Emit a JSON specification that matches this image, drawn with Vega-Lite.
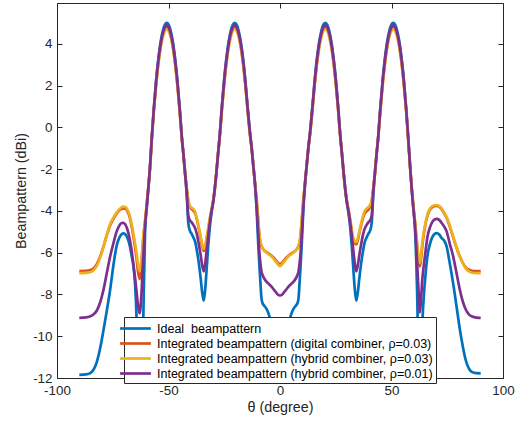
{
"$schema": "https://vega.github.io/schema/vega-lite/v6.json",
"width": 446, "height": 375,
"autosize": {"type": "none"},
"padding": {"left": 57, "top": 3, "right": 18, "bottom": 43},
"background": "white",
"config": {
  "view": {"stroke": "#262626", "strokeWidth": 1},
  "font": "Liberation Sans",
  "axis": {"domain": false, "grid": false, "labelFlush": false, "labelFont": "Liberation Sans", "labelFontSize": 13.4, "labelColor": "#262626", "tickColor": "#262626", "tickSize": -5, "tickWidth": 1, "titleFont": "Liberation Sans", "titleFontSize": 14.3, "titleFontWeight": "normal", "titleColor": "#262626", "labelExpr": "'' + datum.value"}
},
"data": {"values": [
{"t":-90,"ideal":-11.85,"dig":-6.88,"hyb3":-6.98,"hyb1":-9.12},
{"t":-87,"ideal":-11.83,"dig":-6.87,"hyb3":-6.97,"hyb1":-9.1},
{"t":-85.3,"ideal":-11.78,"dig":-6.84,"hyb3":-6.94,"hyb1":-9.06},
{"t":-83.7,"ideal":-11.62,"dig":-6.76,"hyb3":-6.86,"hyb1":-8.96},
{"t":-82.2,"ideal":-11.25,"dig":-6.56,"hyb3":-6.65,"hyb1":-8.78},
{"t":-80.7,"ideal":-10.6,"dig":-6.2,"hyb3":-6.25,"hyb1":-8.4},
{"t":-79.2,"ideal":-9.74,"dig":-5.72,"hyb3":-5.74,"hyb1":-7.8},
{"t":-77.7,"ideal":-8.8,"dig":-5.18,"hyb3":-5.15,"hyb1":-7.0},
{"t":-76.2,"ideal":-7.8,"dig":-4.7,"hyb3":-4.64,"hyb1":-6.2},
{"t":-74.7,"ideal":-6.6,"dig":-4.38,"hyb3":-4.32,"hyb1":-5.55},
{"t":-73.2,"ideal":-5.65,"dig":-4.12,"hyb3":-4.07,"hyb1":-4.97},
{"t":-72.3,"ideal":-5.35,"dig":-4.0,"hyb3":-3.95,"hyb1":-4.75},
{"t":-71.3,"ideal":-5.15,"dig":-3.92,"hyb3":-3.85,"hyb1":-4.6},
{"t":-70.3,"ideal":-5.08,"dig":-3.88,"hyb3":-3.8,"hyb1":-4.57},
{"t":-69.3,"ideal":-5.13,"dig":-3.9,"hyb3":-3.82,"hyb1":-4.66},
{"t":-68.4,"ideal":-5.3,"dig":-4.02,"hyb3":-3.95,"hyb1":-4.9},
{"t":-67.4,"ideal":-5.65,"dig":-4.3,"hyb3":-4.22,"hyb1":-5.35},
{"t":-66.6,"ideal":-6.1,"dig":-4.7,"hyb3":-4.6,"hyb1":-5.85},
{"t":-65.8,"ideal":-6.6,"dig":-5.2,"hyb3":-5.05,"hyb1":-6.5},
{"t":-65,"ideal":-7.5,"dig":-5.74,"hyb3":-5.55,"hyb1":-7.2},
{"t":-64.3,"ideal":-9.2,"dig":-6.3,"hyb3":-6.05,"hyb1":-7.9},
{"t":-63.6,"ideal":-12.5,"dig":-6.95,"hyb3":-6.6,"hyb1":-8.6},
{"t":-62.9,"ideal":-20,"dig":-7.26,"hyb3":-6.9,"hyb1":-8.9},
{"t":-62.2,"ideal":-13,"dig":-6.7,"hyb3":-6.4,"hyb1":-8.1},
{"t":-61.3,"ideal":-9.1,"dig":-5.3,"hyb3":-5.2,"hyb1":-6.2},
{"t":-60.5,"ideal":-5.0,"dig":-4.5,"hyb3":-4.45,"hyb1":-4.7},
{"t":-59.8,"ideal":-3.9,"dig":-3.75,"hyb3":-3.7,"hyb1":-3.85},
{"t":-59.1,"ideal":-3.0,"dig":-2.95,"hyb3":-2.95,"hyb1":-3.0},
{"t":-58.3,"ideal":-1.9,"dig":-1.95,"hyb3":-1.95,"hyb1":-1.92},
{"t":-57.5,"ideal":-0.5,"dig":-0.55,"hyb3":-0.58,"hyb1":-0.52},
{"t":-56.6,"ideal":0.9,"dig":0.78,"hyb3":0.74,"hyb1":0.84},
{"t":-55.6,"ideal":2.2,"dig":2.02,"hyb3":1.95,"hyb1":2.1},
{"t":-54.6,"ideal":3.25,"dig":3.05,"hyb3":2.97,"hyb1":3.14},
{"t":-53.6,"ideal":4.05,"dig":3.83,"hyb3":3.75,"hyb1":3.93},
{"t":-52.6,"ideal":4.6,"dig":4.38,"hyb3":4.3,"hyb1":4.48},
{"t":-51.6,"ideal":4.92,"dig":4.7,"hyb3":4.62,"hyb1":4.8},
{"t":-50.8,"ideal":5.0,"dig":4.78,"hyb3":4.7,"hyb1":4.88},
{"t":-50,"ideal":4.92,"dig":4.7,"hyb3":4.62,"hyb1":4.8},
{"t":-49,"ideal":4.61,"dig":4.39,"hyb3":4.31,"hyb1":4.49},
{"t":-48,"ideal":4.06,"dig":3.84,"hyb3":3.76,"hyb1":3.94},
{"t":-47,"ideal":3.27,"dig":3.05,"hyb3":2.97,"hyb1":3.15},
{"t":-46,"ideal":2.24,"dig":2.04,"hyb3":1.96,"hyb1":2.14},
{"t":-45,"ideal":0.96,"dig":0.82,"hyb3":0.76,"hyb1":0.88},
{"t":-44,"ideal":-0.5,"dig":-0.55,"hyb3":-0.58,"hyb1":-0.52},
{"t":-43.3,"ideal":-1.3,"dig":-1.3,"hyb3":-1.3,"hyb1":-1.3},
{"t":-42.5,"ideal":-2.3,"dig":-2.25,"hyb3":-2.25,"hyb1":-2.28},
{"t":-41.8,"ideal":-3.3,"dig":-2.95,"hyb3":-2.95,"hyb1":-3.1},
{"t":-41.1,"ideal":-4.6,"dig":-3.55,"hyb3":-3.5,"hyb1":-4.25},
{"t":-40.4,"ideal":-4.95,"dig":-3.8,"hyb3":-3.75,"hyb1":-4.45},
{"t":-39.6,"ideal":-5.1,"dig":-3.92,"hyb3":-3.85,"hyb1":-4.55},
{"t":-38.8,"ideal":-5.28,"dig":-4.0,"hyb3":-3.92,"hyb1":-4.68},
{"t":-38,"ideal":-5.5,"dig":-4.12,"hyb3":-4.05,"hyb1":-4.85},
{"t":-37.2,"ideal":-5.95,"dig":-4.45,"hyb3":-4.4,"hyb1":-5.15},
{"t":-36.4,"ideal":-6.5,"dig":-4.85,"hyb3":-4.8,"hyb1":-5.6},
{"t":-35.6,"ideal":-7.2,"dig":-5.3,"hyb3":-5.22,"hyb1":-6.1},
{"t":-34.9,"ideal":-7.9,"dig":-5.7,"hyb3":-5.6,"hyb1":-6.6},
{"t":-34.2,"ideal":-8.3,"dig":-5.92,"hyb3":-5.82,"hyb1":-6.9},
{"t":-33.5,"ideal":-7.7,"dig":-5.7,"hyb3":-5.62,"hyb1":-6.5},
{"t":-32.9,"ideal":-6.8,"dig":-5.35,"hyb3":-5.3,"hyb1":-5.9},
{"t":-32.2,"ideal":-5.7,"dig":-4.9,"hyb3":-4.85,"hyb1":-5.2},
{"t":-31.4,"ideal":-4.7,"dig":-4.35,"hyb3":-4.3,"hyb1":-4.5},
{"t":-30.7,"ideal":-4.1,"dig":-3.95,"hyb3":-3.95,"hyb1":-4.0},
{"t":-30,"ideal":-3.6,"dig":-3.55,"hyb3":-3.55,"hyb1":-3.6},
{"t":-29.3,"ideal":-3.0,"dig":-3.0,"hyb3":-3.0,"hyb1":-3.0},
{"t":-28.5,"ideal":-2.15,"dig":-2.15,"hyb3":-2.15,"hyb1":-2.15},
{"t":-27.8,"ideal":-1.3,"dig":-1.3,"hyb3":-1.3,"hyb1":-1.3},
{"t":-27,"ideal":-0.35,"dig":-0.42,"hyb3":-0.45,"hyb1":-0.38},
{"t":-26,"ideal":1.1,"dig":0.95,"hyb3":0.9,"hyb1":1.02},
{"t":-25,"ideal":2.35,"dig":2.15,"hyb3":2.08,"hyb1":2.25},
{"t":-24,"ideal":3.36,"dig":3.14,"hyb3":3.06,"hyb1":3.24},
{"t":-23,"ideal":4.12,"dig":3.9,"hyb3":3.82,"hyb1":4.0},
{"t":-22.1,"ideal":4.61,"dig":4.39,"hyb3":4.31,"hyb1":4.49},
{"t":-21.2,"ideal":4.9,"dig":4.68,"hyb3":4.6,"hyb1":4.78},
{"t":-20.3,"ideal":5.0,"dig":4.78,"hyb3":4.7,"hyb1":4.88},
{"t":-19.4,"ideal":4.9,"dig":4.68,"hyb3":4.6,"hyb1":4.78},
{"t":-18.5,"ideal":4.6,"dig":4.38,"hyb3":4.3,"hyb1":4.48},
{"t":-17.5,"ideal":4.05,"dig":3.83,"hyb3":3.75,"hyb1":3.93},
{"t":-16.5,"ideal":3.25,"dig":3.04,"hyb3":2.96,"hyb1":3.13},
{"t":-15.5,"ideal":2.2,"dig":2.02,"hyb3":1.95,"hyb1":2.1},
{"t":-14.5,"ideal":0.95,"dig":0.82,"hyb3":0.78,"hyb1":0.88},
{"t":-13.5,"ideal":-0.2,"dig":-0.3,"hyb3":-0.32,"hyb1":-0.25},
{"t":-12.7,"ideal":-1.0,"dig":-1.0,"hyb3":-1.0,"hyb1":-1.0},
{"t":-12,"ideal":-1.8,"dig":-1.8,"hyb3":-1.8,"hyb1":-1.8},
{"t":-11.2,"ideal":-2.75,"dig":-2.7,"hyb3":-2.7,"hyb1":-2.72},
{"t":-10.4,"ideal":-4.1,"dig":-3.6,"hyb3":-3.55,"hyb1":-3.9},
{"t":-9.8,"ideal":-5.5,"dig":-4.4,"hyb3":-4.35,"hyb1":-5.0},
{"t":-9.3,"ideal":-6.5,"dig":-5.1,"hyb3":-5.05,"hyb1":-5.9},
{"t":-8.8,"ideal":-7.4,"dig":-5.5,"hyb3":-5.45,"hyb1":-6.5},
{"t":-8.3,"ideal":-8.2,"dig":-5.68,"hyb3":-5.65,"hyb1":-6.9},
{"t":-7.8,"ideal":-8.42,"dig":-5.8,"hyb3":-5.78,"hyb1":-7.08},
{"t":-7,"ideal":-8.55,"dig":-5.9,"hyb3":-5.9,"hyb1":-7.25},
{"t":-6,"ideal":-8.7,"dig":-5.97,"hyb3":-6.0,"hyb1":-7.4},
{"t":-5,"ideal":-8.95,"dig":-6.04,"hyb3":-6.08,"hyb1":-7.5},
{"t":-4,"ideal":-9.4,"dig":-6.12,"hyb3":-6.16,"hyb1":-7.6},
{"t":-3,"ideal":-10.0,"dig":-6.22,"hyb3":-6.28,"hyb1":-7.74},
{"t":-2,"ideal":-10.5,"dig":-6.35,"hyb3":-6.42,"hyb1":-7.87},
{"t":-1,"ideal":-11.0,"dig":-6.48,"hyb3":-6.55,"hyb1":-8.0},
{"t":0,"ideal":-11.2,"dig":-6.55,"hyb3":-6.65,"hyb1":-8.05},
{"t":1,"ideal":-11.0,"dig":-6.48,"hyb3":-6.55,"hyb1":-8.0},
{"t":2,"ideal":-10.5,"dig":-6.35,"hyb3":-6.42,"hyb1":-7.87},
{"t":3,"ideal":-10.0,"dig":-6.22,"hyb3":-6.28,"hyb1":-7.74},
{"t":4,"ideal":-9.4,"dig":-6.12,"hyb3":-6.16,"hyb1":-7.6},
{"t":5,"ideal":-8.95,"dig":-6.04,"hyb3":-6.08,"hyb1":-7.5},
{"t":6,"ideal":-8.7,"dig":-5.97,"hyb3":-6.0,"hyb1":-7.4},
{"t":7,"ideal":-8.55,"dig":-5.9,"hyb3":-5.9,"hyb1":-7.25},
{"t":7.8,"ideal":-8.42,"dig":-5.8,"hyb3":-5.78,"hyb1":-7.08},
{"t":8.3,"ideal":-8.2,"dig":-5.68,"hyb3":-5.65,"hyb1":-6.9},
{"t":8.8,"ideal":-7.4,"dig":-5.5,"hyb3":-5.45,"hyb1":-6.5},
{"t":9.3,"ideal":-6.5,"dig":-5.1,"hyb3":-5.05,"hyb1":-5.9},
{"t":9.8,"ideal":-5.5,"dig":-4.4,"hyb3":-4.35,"hyb1":-5.0},
{"t":10.4,"ideal":-4.1,"dig":-3.6,"hyb3":-3.55,"hyb1":-3.9},
{"t":11.2,"ideal":-2.75,"dig":-2.7,"hyb3":-2.7,"hyb1":-2.72},
{"t":12,"ideal":-1.8,"dig":-1.8,"hyb3":-1.8,"hyb1":-1.8},
{"t":12.7,"ideal":-1.0,"dig":-1.0,"hyb3":-1.0,"hyb1":-1.0},
{"t":13.5,"ideal":-0.2,"dig":-0.3,"hyb3":-0.32,"hyb1":-0.25},
{"t":14.5,"ideal":0.95,"dig":0.82,"hyb3":0.78,"hyb1":0.88},
{"t":15.5,"ideal":2.2,"dig":2.02,"hyb3":1.95,"hyb1":2.1},
{"t":16.5,"ideal":3.25,"dig":3.04,"hyb3":2.96,"hyb1":3.13},
{"t":17.5,"ideal":4.05,"dig":3.83,"hyb3":3.75,"hyb1":3.93},
{"t":18.5,"ideal":4.6,"dig":4.38,"hyb3":4.3,"hyb1":4.48},
{"t":19.4,"ideal":4.9,"dig":4.68,"hyb3":4.6,"hyb1":4.78},
{"t":20.3,"ideal":5.0,"dig":4.78,"hyb3":4.7,"hyb1":4.88},
{"t":21.2,"ideal":4.9,"dig":4.68,"hyb3":4.6,"hyb1":4.78},
{"t":22.1,"ideal":4.61,"dig":4.39,"hyb3":4.31,"hyb1":4.49},
{"t":23,"ideal":4.12,"dig":3.9,"hyb3":3.82,"hyb1":4.0},
{"t":24,"ideal":3.36,"dig":3.14,"hyb3":3.06,"hyb1":3.24},
{"t":25,"ideal":2.35,"dig":2.15,"hyb3":2.08,"hyb1":2.25},
{"t":26,"ideal":1.1,"dig":0.95,"hyb3":0.9,"hyb1":1.02},
{"t":27,"ideal":-0.35,"dig":-0.42,"hyb3":-0.45,"hyb1":-0.38},
{"t":27.8,"ideal":-1.3,"dig":-1.3,"hyb3":-1.3,"hyb1":-1.3},
{"t":28.5,"ideal":-2.15,"dig":-2.15,"hyb3":-2.15,"hyb1":-2.15},
{"t":29.3,"ideal":-3.0,"dig":-3.0,"hyb3":-3.0,"hyb1":-3.0},
{"t":30,"ideal":-3.6,"dig":-3.55,"hyb3":-3.55,"hyb1":-3.6},
{"t":30.7,"ideal":-4.1,"dig":-3.95,"hyb3":-3.95,"hyb1":-4.0},
{"t":31.4,"ideal":-4.7,"dig":-4.4,"hyb3":-4.35,"hyb1":-4.5},
{"t":32.2,"ideal":-5.7,"dig":-5.0,"hyb3":-4.95,"hyb1":-5.2},
{"t":32.9,"ideal":-6.8,"dig":-5.4,"hyb3":-5.32,"hyb1":-5.9},
{"t":33.5,"ideal":-7.7,"dig":-5.55,"hyb3":-5.45,"hyb1":-6.5},
{"t":34.2,"ideal":-8.3,"dig":-5.6,"hyb3":-5.5,"hyb1":-6.9},
{"t":34.9,"ideal":-7.9,"dig":-5.4,"hyb3":-5.3,"hyb1":-6.6},
{"t":35.6,"ideal":-7.2,"dig":-5.05,"hyb3":-4.98,"hyb1":-6.1},
{"t":36.4,"ideal":-6.5,"dig":-4.68,"hyb3":-4.6,"hyb1":-5.6},
{"t":37.2,"ideal":-5.95,"dig":-4.35,"hyb3":-4.25,"hyb1":-5.15},
{"t":38,"ideal":-5.5,"dig":-4.12,"hyb3":-4.0,"hyb1":-4.85},
{"t":38.8,"ideal":-5.28,"dig":-4.02,"hyb3":-3.9,"hyb1":-4.68},
{"t":39.6,"ideal":-5.1,"dig":-3.95,"hyb3":-3.82,"hyb1":-4.55},
{"t":40.4,"ideal":-4.95,"dig":-3.8,"hyb3":-3.72,"hyb1":-4.45},
{"t":41.1,"ideal":-4.6,"dig":-3.55,"hyb3":-3.5,"hyb1":-4.25},
{"t":41.8,"ideal":-3.3,"dig":-2.95,"hyb3":-2.95,"hyb1":-3.1},
{"t":42.5,"ideal":-2.3,"dig":-2.25,"hyb3":-2.25,"hyb1":-2.28},
{"t":43.3,"ideal":-1.3,"dig":-1.3,"hyb3":-1.3,"hyb1":-1.3},
{"t":44,"ideal":-0.5,"dig":-0.55,"hyb3":-0.58,"hyb1":-0.52},
{"t":45,"ideal":0.96,"dig":0.82,"hyb3":0.76,"hyb1":0.88},
{"t":46,"ideal":2.24,"dig":2.04,"hyb3":1.96,"hyb1":2.14},
{"t":47,"ideal":3.27,"dig":3.05,"hyb3":2.97,"hyb1":3.15},
{"t":48,"ideal":4.06,"dig":3.84,"hyb3":3.76,"hyb1":3.94},
{"t":49,"ideal":4.61,"dig":4.39,"hyb3":4.31,"hyb1":4.49},
{"t":50,"ideal":4.92,"dig":4.7,"hyb3":4.62,"hyb1":4.8},
{"t":50.8,"ideal":5.0,"dig":4.78,"hyb3":4.7,"hyb1":4.88},
{"t":51.6,"ideal":4.92,"dig":4.7,"hyb3":4.62,"hyb1":4.8},
{"t":52.6,"ideal":4.6,"dig":4.38,"hyb3":4.3,"hyb1":4.48},
{"t":53.6,"ideal":4.05,"dig":3.83,"hyb3":3.75,"hyb1":3.93},
{"t":54.6,"ideal":3.25,"dig":3.05,"hyb3":2.97,"hyb1":3.14},
{"t":55.6,"ideal":2.2,"dig":2.02,"hyb3":1.95,"hyb1":2.1},
{"t":56.6,"ideal":0.9,"dig":0.78,"hyb3":0.74,"hyb1":0.84},
{"t":57.5,"ideal":-0.5,"dig":-0.55,"hyb3":-0.58,"hyb1":-0.52},
{"t":58.3,"ideal":-1.8,"dig":-1.85,"hyb3":-1.85,"hyb1":-1.82},
{"t":59.1,"ideal":-3.0,"dig":-2.95,"hyb3":-2.95,"hyb1":-3.0},
{"t":59.8,"ideal":-3.9,"dig":-3.8,"hyb3":-3.78,"hyb1":-3.85},
{"t":60.5,"ideal":-4.8,"dig":-4.5,"hyb3":-4.45,"hyb1":-4.65},
{"t":61.1,"ideal":-6.4,"dig":-5.2,"hyb3":-5.1,"hyb1":-5.7},
{"t":61.7,"ideal":-9.0,"dig":-5.9,"hyb3":-5.75,"hyb1":-6.9},
{"t":62.2,"ideal":-13,"dig":-6.4,"hyb3":-6.25,"hyb1":-8.0},
{"t":62.7,"ideal":-20,"dig":-6.66,"hyb3":-6.5,"hyb1":-8.86},
{"t":63.2,"ideal":-13,"dig":-6.35,"hyb3":-6.15,"hyb1":-8.3},
{"t":63.8,"ideal":-9.6,"dig":-5.7,"hyb3":-5.55,"hyb1":-7.3},
{"t":64.5,"ideal":-8.1,"dig":-5.1,"hyb3":-5.0,"hyb1":-6.6},
{"t":65.3,"ideal":-7.0,"dig":-4.6,"hyb3":-4.55,"hyb1":-5.9},
{"t":66.2,"ideal":-6.1,"dig":-4.2,"hyb3":-4.15,"hyb1":-5.2},
{"t":67.2,"ideal":-5.6,"dig":-3.95,"hyb3":-3.9,"hyb1":-4.8},
{"t":68.2,"ideal":-5.28,"dig":-3.83,"hyb3":-3.78,"hyb1":-4.55},
{"t":69.2,"ideal":-5.12,"dig":-3.77,"hyb3":-3.73,"hyb1":-4.42},
{"t":70.3,"ideal":-5.07,"dig":-3.76,"hyb3":-3.72,"hyb1":-4.38},
{"t":71.4,"ideal":-5.13,"dig":-3.8,"hyb3":-3.77,"hyb1":-4.43},
{"t":72.5,"ideal":-5.3,"dig":-3.92,"hyb3":-3.88,"hyb1":-4.58},
{"t":73.6,"ideal":-5.42,"dig":-4.12,"hyb3":-4.08,"hyb1":-4.75},
{"t":74.7,"ideal":-5.7,"dig":-4.33,"hyb3":-4.3,"hyb1":-4.98},
{"t":76.2,"ideal":-6.55,"dig":-4.78,"hyb3":-4.73,"hyb1":-5.6},
{"t":77.7,"ideal":-7.5,"dig":-5.28,"hyb3":-5.24,"hyb1":-6.2},
{"t":79.2,"ideal":-8.6,"dig":-5.78,"hyb3":-5.74,"hyb1":-7.0},
{"t":80.7,"ideal":-9.7,"dig":-6.2,"hyb3":-6.2,"hyb1":-7.8},
{"t":82,"ideal":-10.5,"dig":-6.5,"hyb3":-6.52,"hyb1":-8.35},
{"t":83.3,"ideal":-11.15,"dig":-6.7,"hyb3":-6.75,"hyb1":-8.72},
{"t":84.7,"ideal":-11.55,"dig":-6.82,"hyb3":-6.9,"hyb1":-8.95},
{"t":86.2,"ideal":-11.72,"dig":-6.87,"hyb3":-6.96,"hyb1":-9.06},
{"t":88,"ideal":-11.77,"dig":-6.88,"hyb3":-6.98,"hyb1":-9.11},
{"t":90,"ideal":-11.78,"dig":-6.88,"hyb3":-6.98,"hyb1":-9.12}
]},
"transform": [{"fold": ["ideal", "dig", "hyb3", "hyb1"], "as": ["series", "val"]}],
"layer": [
  {
    "mark": {"type": "line", "clip": true, "strokeWidth": 2.7, "interpolate": "monotone"},
    "encoding": {
      "x": {"field": "t", "type": "quantitative", "scale": {"domain": [-100, 100], "nice": false},
            "axis": {"orient": "bottom", "values": [-100, -50, 0, 50, 100], "title": "θ (degree)", "labelPadding": 10, "titlePadding": 4}},
      "y": {"field": "val", "type": "quantitative", "scale": {"domain": [-12, 5.95], "nice": false, "zero": false},
            "axis": {"orient": "left", "values": [-12, -10, -8, -6, -4, -2, 0, 2, 4], "title": "Beampattern (dBi)", "labelPadding": 10, "titlePadding": 4}},
      "color": {"field": "series", "type": "nominal",
        "scale": {"domain": ["ideal", "dig", "hyb3", "hyb1"], "range": ["#0072BD", "#D95319", "#EDB120", "#7E2F8E"]},
        "legend": {"orient": "none", "legendX": 67, "legendY": 314, "title": null, "symbolType": "M-2.2,0H2.2", "symbolSize": 196, "symbolStrokeWidth": 2.7, "padding": 3, "labelOffset": 13, "rowPadding": 0, "fillColor": "white", "strokeColor": "#262626", "labelFont": "Liberation Sans", "labelFontSize": 12.5, "labelColor": "#000000", "labelLimit": 0,
          "labelExpr": "datum.value == 'ideal' ? 'Ideal\u00a0 beampattern' : datum.value == 'dig' ? 'Integrated beampattern (digital combiner, ρ=0.03)' : datum.value == 'hyb3' ? 'Integrated beampattern (hybrid combiner, ρ=0.03)' : 'Integrated beampattern (hybrid combiner, ρ=0.01)'"}}
    }
  },
  {
    "mark": {"type": "point", "opacity": 0},
    "encoding": {
      "x": {"field": "t", "type": "quantitative", "scale": {"domain": [-100, 100], "nice": false},
            "axis": {"orient": "top", "values": [-100, -50, 0, 50, 100], "labels": false, "title": null}},
      "y": {"field": "val", "type": "quantitative", "scale": {"domain": [-12, 5.95], "nice": false, "zero": false},
            "axis": {"orient": "right", "values": [-12, -10, -8, -6, -4, -2, 0, 2, 4], "labels": false, "title": null}}
    }
  }
],
"resolve": {"axis": {"x": "independent", "y": "independent"}}
}
